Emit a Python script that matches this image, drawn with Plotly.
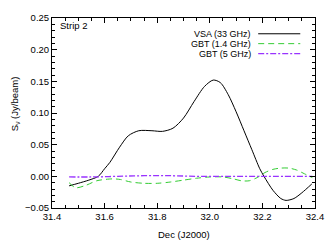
import plotly.graph_objects as go

# VSA (33 GHz)
vsa_x = [31.465, 31.50, 31.54, 31.576, 31.60, 31.62, 31.657, 31.69, 31.73, 31.78, 31.82, 31.86,
         31.90, 31.94, 31.98, 32.013, 32.04, 32.07, 32.10, 32.13, 32.16, 32.19, 32.206,
         32.24, 32.27, 32.29, 32.32, 32.35, 32.388]
vsa_y = [-0.015, -0.011, -0.006, 0.000, 0.012, 0.022, 0.046, 0.064, 0.072, 0.072, 0.071, 0.076,
         0.092, 0.118, 0.142, 0.152, 0.148, 0.129, 0.102, 0.072, 0.042, 0.012, 0.000,
         -0.022, -0.035, -0.038, -0.035, -0.026, -0.012]

# GBT (1.4 GHz)
g14_x = [31.465, 31.49, 31.53, 31.57, 31.63, 31.66, 31.70, 31.75, 31.80, 31.85, 31.90, 31.95,
         32.00, 32.05, 32.09, 32.12, 32.15, 32.18, 32.21, 32.24, 32.27, 32.30, 32.33, 32.36, 32.39]
g14_y = [-0.010, -0.018, -0.014, -0.007, -0.004, -0.005, -0.009, -0.011, -0.011, -0.009, -0.006, -0.003,
         -0.001, -0.001, -0.004, -0.007, -0.007, -0.002, 0.006, 0.011, 0.013, 0.013, 0.010, 0.004, -0.002]

# GBT (5 GHz)
g5_x = [31.465, 31.55, 31.65, 31.75, 31.85, 31.95, 32.05, 32.15, 32.25, 32.39]
g5_y = [-0.001, -0.001, 0.000, 0.001, 0.001, 0.000, 0.000, 0.000, 0.000, 0.000]

legend_names = ["VSA (33 GHz)", "GBT (1.4 GHz)", "GBT (5 GHz)"]
colors = ["#000000", "#33cc33", "#9933ff"]
dashes = ["solid", "6px,4px", "6px,2px,2px,2px"]

fig = go.Figure()
fig.add_trace(go.Scatter(x=vsa_x, y=vsa_y, mode="lines", line=dict(color=colors[0], width=1, shape="spline", smoothing=0.8)))
fig.add_trace(go.Scatter(x=g14_x, y=g14_y, mode="lines", line=dict(color=colors[1], width=1, dash=dashes[1], shape="spline", smoothing=0.8)))
fig.add_trace(go.Scatter(x=g5_x, y=g5_y, mode="lines", line=dict(color=colors[2], width=1.3, dash=dashes[2], shape="spline")))

font = dict(family="Liberation Sans, Arial, sans-serif", size=9.5, color="#000")
legend_font = dict(family="Liberation Sans, Arial, sans-serif", size=9, color="#000")
axis_common = dict(showgrid=False, zeroline=False, showline=True, linecolor="#000", linewidth=1,
                   mirror="ticks", ticks="inside", ticklen=5, tickcolor="#000", tickfont=font)

fig.update_xaxes(range=[31.4, 32.4], dtick=0.2, tickformat=".1f",
                 minor=dict(ticks="inside", dtick=0.05, ticklen=3, tickcolor="#000"), **axis_common)
fig.update_yaxes(range=[-0.05, 0.25], dtick=0.05, tickformat=".2f",
                 minor=dict(ticks="inside", dtick=0.01, ticklen=3, tickcolor="#000"), **axis_common)

annotations = [
    dict(text="Strip 2", x=0.022, y=0.958, xref="paper", yref="paper", xanchor="left", yanchor="middle",
         showarrow=False, font=font),
    dict(text="Dec (J2000)", x=0.5, y=-0.1, xref="paper", yref="paper", xanchor="center", yanchor="top",
         showarrow=False, font=font),
    dict(text="S<sub>ν</sub> (Jy/beam)", x=-0.138, y=0.55, xref="paper", yref="paper", xanchor="center",
         yanchor="middle", textangle=-90, showarrow=False, font=font),
]
shapes = []
rows_y = [0.917, 0.865, 0.813]
for name, c, d, ry in zip(legend_names, colors, dashes, rows_y):
    annotations.append(dict(text=name, x=0.761, y=ry, xref="paper", yref="paper", xanchor="right",
                            yanchor="middle", showarrow=False, font=legend_font, borderpad=0))
    shapes.append(dict(type="line", x0=0.784, x1=0.944, y0=ry, y1=ry, xref="paper", yref="paper",
                       line=dict(color=c, width=1.3 if c == colors[2] else 1, dash=d)))

fig.update_layout(width=336, height=240, margin=dict(l=52, r=16, t=16, b=32),
                  paper_bgcolor="white", plot_bgcolor="white", showlegend=False,
                  annotations=annotations, shapes=shapes, font=font)

fig.write_html("out.html", config={"displayModeBar": False},
               post_script="document.body.style.margin='0px';document.body.style.padding='0px';")
